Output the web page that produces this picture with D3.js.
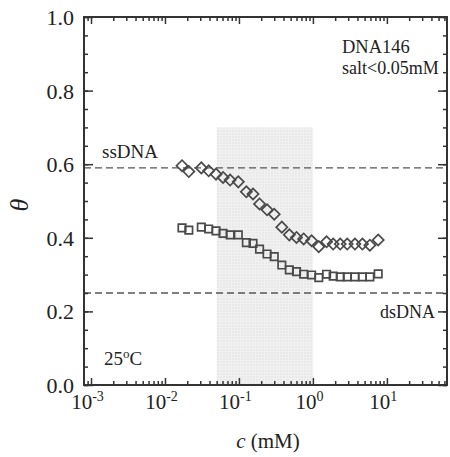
<!DOCTYPE html>
<html>
<head>
<meta charset="utf-8">
<script src="https://cdn.jsdelivr.net/npm/d3@7"></script>
<style>
    body { margin: 0; background: #fff; }
    svg text { font-family: "Liberation Serif", "Times New Roman", serif; fill: #222; }
</style>
</head>
<body>
<svg id="chart" width="450" height="457"></svg>
<script>
//=================== DATA ====================================
// salt concentration c (mM), shared by both series
var conc = [0.017, 0.021, 0.031, 0.039, 0.049, 0.061, 0.076, 0.098, 0.126, 0.155,
    0.19, 0.24, 0.30, 0.38, 0.48, 0.60, 0.75, 0.96, 1.2, 1.53,
    1.88, 2.34, 2.91, 3.7, 4.67, 5.89, 7.63];
// upper series (diamonds)
var thetaDiamond = [0.596, 0.580, 0.590, 0.582, 0.573, 0.564, 0.557, 0.552, 0.525, 0.519,
    0.492, 0.476, 0.464, 0.429, 0.408, 0.401, 0.397, 0.392, 0.376, 0.389,
    0.383, 0.383, 0.383, 0.383, 0.383, 0.380, 0.394];
// lower series (squares)
var thetaSquare = [0.427, 0.421, 0.429, 0.424, 0.419, 0.412, 0.408, 0.408, 0.387, 0.385,
    0.369, 0.356, 0.349, 0.326, 0.313, 0.308, 0.301, 0.299, 0.292, 0.301,
    0.296, 0.294, 0.294, 0.294, 0.294, 0.294, 0.302];
// reference levels
var refLevels = [0.59, 0.25];
var refNames = ["ssDNA", "dsDNA"];
// shaded band (c range and theta top)
var shadeConc = [0.05, 1];
var shadeTheta = 0.7;
var xDomain = [8.04e-4, 65];
var yDomain = [0, 1];
var yMajor = [0, 0.2, 0.4, 0.6, 0.8, 1.0];
var yMinor = d3.range(0, 1.001, 0.05);

//=================== LAYOUT ====================================
var mLeft = 84, mRight = 447, mTop = 17, mBottom = 385;

var svg = d3.select("#chart");

var x = d3.scaleLog().domain(xDomain).range([mLeft, mRight]);
var y = d3.scaleLinear().domain(yDomain).range([mBottom, mTop]);

var xMajor = x.ticks().filter(function (d) {
    return Math.abs(Math.log10(d) - Math.round(Math.log10(d))) < 1e-9;
});
var xMinor = x.ticks().filter(function (d) { return xMajor.indexOf(d) < 0; });

// grid-like texture for the shaded band
var defs = svg.append("defs");
var pat = defs.append("pattern")
    .attr("id", "band")
    .attr("width", 3).attr("height", 3)
    .attr("patternUnits", "userSpaceOnUse");
pat.append("rect").attr("width", 3).attr("height", 3).attr("fill", "#e9e9e9");
pat.append("path").attr("d", "M0,0.5H3M0.5,0V3").attr("stroke", "#f1f1f1").attr("stroke-width", 1);

svg.append("rect")
    .attr("x", x(shadeConc[0]))
    .attr("y", y(shadeTheta))
    .attr("width", x(shadeConc[1]) - x(shadeConc[0]))
    .attr("height", y(0) - y(shadeTheta))
    .attr("fill", "url(#band)");

//=================== REFERENCE LINES ====================================
svg.selectAll("line.ref")
    .data(refLevels)
    .enter()
    .append("line")
    .classed("ref", true)
    .attr("x1", mLeft).attr("x2", mRight)
    .attr("y1", function (d) { return y(d); })
    .attr("y2", function (d) { return y(d); })
    .attr("stroke", "#555")
    .attr("stroke-width", 1.3)
    .attr("stroke-dasharray", "7,4");

//=================== AXES ====================================
function styleAxis(g) {
    g.select(".domain").remove();
    g.selectAll(".tick line").attr("stroke", "#333").attr("stroke-width", 1.5);
}

// left
svg.append("g").attr("transform", "translate(" + mLeft + ",0)")
    .call(d3.axisLeft(y).tickValues(yMinor).tickSize(-4).tickFormat(""))
    .call(styleAxis);
svg.append("g").attr("transform", "translate(" + mLeft + ",0)")
    .call(d3.axisLeft(y).tickValues(yMajor).tickSize(-9).tickPadding(10).tickFormat(d3.format(".1f")))
    .call(styleAxis)
    .selectAll("text")
    .attr("font-size", 22)
    .attr("dy", "0.34em");

// right
svg.append("g").attr("transform", "translate(" + mRight + ",0)")
    .call(d3.axisRight(y).tickValues(yMinor).tickSize(-4).tickFormat(""))
    .call(styleAxis);
svg.append("g").attr("transform", "translate(" + mRight + ",0)")
    .call(d3.axisRight(y).tickValues(yMajor).tickSize(-9).tickFormat(""))
    .call(styleAxis);

// bottom
svg.append("g").attr("transform", "translate(0," + mBottom + ")")
    .call(d3.axisBottom(x).tickValues(xMinor).tickSize(-4).tickFormat(""))
    .call(styleAxis);
var xAxisG = svg.append("g").attr("transform", "translate(0," + mBottom + ")")
    .call(d3.axisBottom(x).tickValues(xMajor).tickSize(-7).tickFormat(""))
    .call(styleAxis);

xAxisG.selectAll(".tick text")
    .attr("y", 24)
    .attr("dy", 0)
    .attr("x", -4)
    .attr("font-size", 21)
    .each(function (d) {
        var t = d3.select(this);
        t.append("tspan").text("10");
        t.append("tspan")
            .attr("dy", -8)
            .attr("font-size", 14)
            .text(String(Math.round(Math.log10(d))));
    });

// top
svg.append("g").attr("transform", "translate(0," + mTop + ")")
    .call(d3.axisTop(x).tickValues(xMinor).tickSize(-4).tickFormat(""))
    .call(styleAxis);
svg.append("g").attr("transform", "translate(0," + mTop + ")")
    .call(d3.axisTop(x).tickValues(xMajor).tickSize(-7).tickFormat(""))
    .call(styleAxis);

// frame
svg.append("rect")
    .attr("x", mLeft).attr("y", mTop)
    .attr("width", mRight - mLeft).attr("height", mBottom - mTop)
    .attr("fill", "none")
    .attr("stroke", "#333")
    .attr("stroke-width", 2);

//=================== MARKERS ====================================
var diamondPath = d3.symbol(d3.symbolSquare, 62)();
var squarePath = d3.symbol(d3.symbolSquare, 56)();

svg.append("g").selectAll("path")
    .data(conc)
    .enter()
    .append("path")
    .attr("d", diamondPath)
    .attr("transform", function (d, i) {
        return "translate(" + x(d) + "," + y(thetaDiamond[i]) + ") rotate(45)";
    })
    .attr("fill", "none")
    .attr("stroke", "#4a4a4a")
    .attr("stroke-width", 1.7);

svg.append("g").selectAll("path")
    .data(conc)
    .enter()
    .append("path")
    .attr("d", squarePath)
    .attr("transform", function (d, i) {
        return "translate(" + x(d) + "," + y(thetaSquare[i]) + ")";
    })
    .attr("fill", "none")
    .attr("stroke", "#4a4a4a")
    .attr("stroke-width", 1.7);

//=================== TEXT ====================================
svg.append("text").attr("x", 102).attr("y", 158).attr("font-size", 19).text(refNames[0]);
svg.append("text").attr("x", 380).attr("y", 318).attr("font-size", 18).text(refNames[1]);

svg.append("text").attr("x", 342).attr("y", 53).attr("font-size", 18.5).text("DNA146");
svg.append("text").attr("x", 342).attr("y", 74).attr("font-size", 18).text("salt<0.05mM");

var temp = svg.append("text").attr("x", 104).attr("y", 365).attr("font-size", 19);
temp.append("tspan").text("25");
temp.append("tspan").attr("dy", -7).attr("font-size", 13).text("o");
temp.append("tspan").attr("dy", 7).text("C");

var xTitle = svg.append("text")
    .attr("x", 268).attr("y", 448)
    .attr("text-anchor", "middle")
    .attr("font-size", 21);
xTitle.append("tspan").attr("font-style", "italic").text("c");
xTitle.append("tspan").text(" (mM)");

svg.append("text")
    .attr("transform", "translate(28,205) rotate(-90)")
    .attr("text-anchor", "middle")
    .attr("font-size", 26)
    .attr("font-style", "italic")
    .text("θ");
</script>
</body>
</html>
